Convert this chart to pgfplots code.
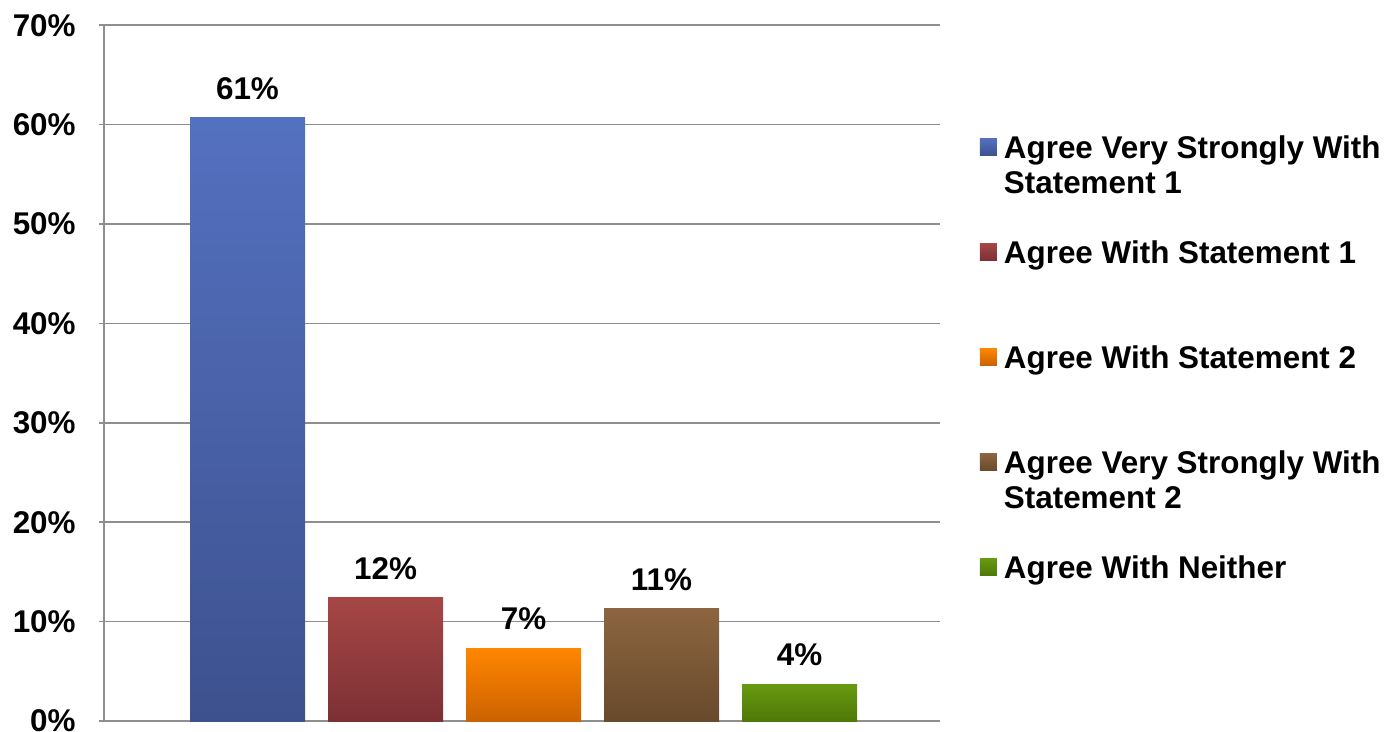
\documentclass[border=0pt]{standalone}
\usepackage{fontspec}
\setmainfont{Liberation Sans}
\usepackage{pgfplots}
\pgfplotsset{compat=1.18}
\definecolor{gridc}{HTML}{8E8E8E}
\definecolor{c1t}{RGB}{84,113,192}\definecolor{c1b}{RGB}{61,81,142}
\definecolor{c2t}{RGB}{166,70,70}\definecolor{c2b}{RGB}{124,48,52}
\definecolor{c3t}{RGB}{255,134,0}\definecolor{c3b}{RGB}{204,98,0}
\definecolor{c4t}{RGB}{140,101,64}\definecolor{c4b}{RGB}{104,74,44}
\definecolor{c5t}{RGB}{103,154,16}\definecolor{c5b}{RGB}{78,120,8}
\newcommand{\bigf}{\fontsize{15.7pt}{17.5pt}\selectfont\bfseries}
\pgfplotsset{sqlegend/.style={legend image code/.code={\path[##1] (0pt,1.35pt) rectangle (8.5pt,9.85pt);}}}
\begin{document}
\begin{tikzpicture}
\useasboundingbox (-52pt,-5.45pt) rectangle (644pt,360.55pt);
\begin{axis}[
  at={(0,0)}, anchor=south west,
  scale only axis, width=418pt, height=347.9pt,
  ybar, clip=false,
  xmin=-1.0399, xmax=5.018,
  ymin=0, ymax=70,
  xtick=\empty,
  ytick={0,10,20,30,40,50,60,70},
  yticklabels={0\%,10\%,20\%,30\%,40\%,50\%,60\%,70\%},
  yticklabel style={font=\bigf, inner sep=0pt, xshift=-11.5pt},
  tick align=outside, major tick length=5pt,
  ytick style={gridc, line width=0.8pt},
  ymajorgrids, grid style={gridc, line width=0.8pt},
  axis x line=bottom, axis y line=left,
  axis line style={gridc, line width=0.8pt, -},
  bar width=57.5pt,
  every axis plot post/.append style={sqlegend, bar shift=0pt, draw=none},
  nodes near coords={\pgfmathprintnumber[fixed,precision=0,assume math mode=true]{\pgfplotspointmeta}\%},
  every node near coord/.append style={font=\bigf, text=black, inner sep=0pt, yshift=9pt, anchor=south},
  legend style={draw=none, fill=none, inner sep=0pt, outer sep=0pt, row sep=34.75pt, column sep=1.5pt,
    font=\bigf, at={(1.0478,0.850)}, anchor=north west},
  legend cell align=left,
  legend style={cells={anchor=base west, inner sep=0pt}},
]
\addplot[top color=c1t, bottom color=c1b] coordinates {(0,60.7)};
\addlegendentry{\parbox[t]{195pt}{\strut Agree Very Strongly With\\Statement 1}}
\addplot[top color=c2t, bottom color=c2b] coordinates {(1,12.4)};
\addlegendentry{\parbox[t]{195pt}{\strut Agree With Statement 1}}
\addplot[top color=c3t, bottom color=c3b] coordinates {(2,7.3)};
\addlegendentry{\parbox[t]{195pt}{\strut Agree With Statement 2}}
\addplot[top color=c4t, bottom color=c4b] coordinates {(3,11.3)};
\addlegendentry{\parbox[t]{195pt}{\strut Agree Very Strongly With\\Statement 2}}
\addplot[top color=c5t, bottom color=c5b] coordinates {(4,3.7)};
\addlegendentry{\parbox[t]{195pt}{\strut Agree With Neither}}
\end{axis}
\end{tikzpicture}
\end{document}
